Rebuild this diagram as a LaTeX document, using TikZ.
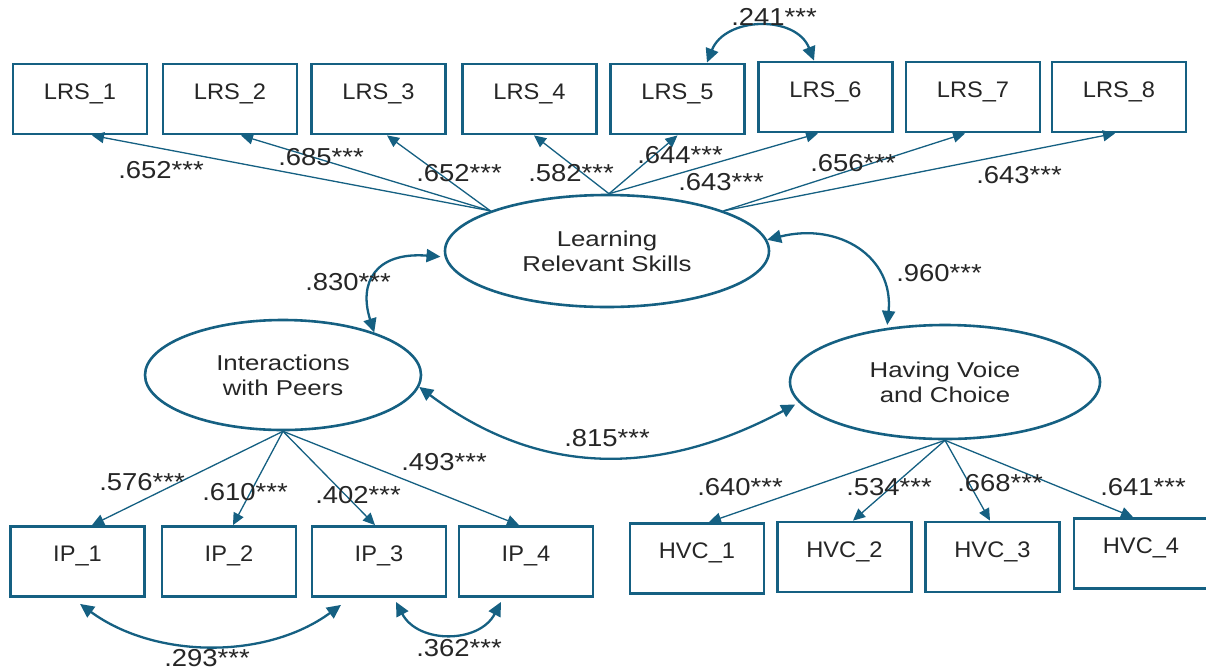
\documentclass[tikz,border=0pt]{standalone}
\usepackage{fontspec}
\setmainfont{Liberation Sans}
\newfontfamily\boxfont{Liberation Sans}[FakeStretch=1.05]
\newfontfamily\latfont{Liberation Sans}[FakeStretch=1.2]
\newfontfamily\numfont{Liberation Sans}[FakeStretch=1.12]
\usetikzlibrary{shapes.geometric,arrows.meta}
\definecolor{sem}{HTML}{156082}
\definecolor{ink}{HTML}{262626}

\tikzset{
  obs/.style={draw=sem, line width=2.8pt, rectangle, minimum width=134pt,
    minimum height=70pt, inner sep=0pt, text height=16pt, text depth=16pt,
    text=ink, font=\boxfont\fontsize{22.5}{26}\selectfont},
  lat/.style={draw=sem, line width=2.6pt, ellipse, inner sep=0pt, align=center,
    text=ink, font=\latfont\fontsize{21.5}{25}\selectfont},
  load/.style={draw=sem, line width=1.3pt, -{Triangle[length=12pt,width=11pt]}},
  cov/.style={draw=sem, line width=2.3pt,
    {Triangle[length=14pt,width=13pt]}-{Triangle[length=14pt,width=13pt]}},
  est/.style={text=ink, inner sep=0pt, font=\numfont\fontsize{24.5}{27}\selectfont},
}

\begin{document}
\begin{tikzpicture}[x=1pt,y=-1pt]
\fill[white] (0,0) rectangle (1206,670);
\useasboundingbox (0,0) rectangle (1206,670);

% latent factors
\node[lat, minimum width=324pt, minimum height=112pt] (LRS) at (607,251) {Learning\\Relevant Skills};
\node[lat, minimum width=276pt, minimum height=110pt] (IP)  at (283,375) {Interactions\\with Peers};
\node[lat, minimum width=310pt, minimum height=114pt] (HVC) at (945,382) {Having Voice\\and Choice};

% indicators of Learning Relevant Skills
\node[obs] (L1) at (80,99)    {LRS\_1};
\node[obs] (L2) at (230,99)   {LRS\_2};
\node[obs] (L3) at (378.5,99) {LRS\_3};
\node[obs] (L4) at (529.5,99) {LRS\_4};
\node[obs] (L5) at (677.5,99) {LRS\_5};
\node[obs] (L6) at (825.5,97) {LRS\_6};
\node[obs] (L7) at (973,97)   {LRS\_7};
\node[obs] (L8) at (1119,97)  {LRS\_8};

% indicators of Interactions with Peers
\node[obs] (P1) at (77.5,561.5) {IP\_1};
\node[obs] (P2) at (229,561.5)  {IP\_2};
\node[obs] (P3) at (379,561.5)  {IP\_3};
\node[obs] (P4) at (526,561.5)  {IP\_4};

% indicators of Having Voice and Choice
\node[obs] (H1) at (697,558.5)  {HVC\_1};
\node[obs] (H2) at (844.5,557)  {HVC\_2};
\node[obs] (H3) at (992.5,557)  {HVC\_3};
\node[obs] (H4) at (1141,553.5) {HVC\_4};

% factor loadings
\draw[load] (LRS.161) -- ([xshift=12pt]L1.south);
\draw[load] (LRS.161) -- ([xshift=11pt]L2.south);
\draw[load] (LRS.161) -- ([xshift=8.5pt]L3.south);
\draw[load] (LRS.88)  -- ([xshift=4.5pt]L4.south);
\draw[load] (LRS.88)  -- (L5.south);
\draw[load] (LRS.88)  -- ([xshift=-7.5pt]L6.south);
\draw[load] (LRS.19)  -- ([xshift=-8pt]L7.south);
\draw[load] (LRS.19)  -- ([xshift=-4pt]L8.south);

\draw[load] (IP.south) -- ([xshift=14.5pt]P1.north);
\draw[load] (IP.south) -- ([xshift=4pt]P2.north);
\draw[load] (IP.south) -- ([xshift=-4pt]P3.north);
\draw[load] (IP.south) -- ([xshift=-7pt]P4.north);

\draw[load] (HVC.south) -- ([xshift=12pt]H1.north);
\draw[load] (HVC.south) -- ([xshift=8.5pt]H2.north);
\draw[load] (HVC.south) -- ([xshift=-2.5pt]H3.north);
\draw[load] (HVC.south) -- ([xshift=-8pt]H4.north);

% covariances
\draw[cov] ([xshift=29.5pt]L5.north) .. controls +(18,-46) and +(-18,-46) .. ([xshift=-11.5pt]L6.north);
\draw[cov] (IP.25) .. controls +(-16,-50) and +(-65,-5) .. ([xshift=-4pt]LRS.182);
\draw[cov, shorten >=3pt] (LRS.4) .. controls +(72,-18) and +(7,-71) .. (HVC.137);
\draw[cov, shorten >=4pt] (IP.-5) .. controls +(120,90) and +(-140,75) .. (HVC.188);
\draw[cov] ([xshift=2.5pt,yshift=-6pt]P1.south) .. controls +(75,55) and +(-75,55) .. ([xshift=-38pt,yshift=-7pt]P3.south);
\draw[cov] ([xshift=17pt,yshift=-4pt]P3.south) .. controls +(22,42) and +(-22,42) .. ([xshift=-25pt,yshift=-4pt]P4.south);

% estimates
\node[est] (e241)  at (774,17)   {.241***};
\node[est] (e652a) at (161,170)  {.652***};
\node[est] (e685)  at (321,157)  {.685***};
\node[est] (e652b) at (459,173)  {.652***};
\node[est] (e582)  at (571,173)  {.582***};
\node[est] (e644)  at (680,155)  {.644***};
\node[est] (e643a) at (721,182)  {.643***};
\node[est] (e656)  at (853,163)  {.656***};
\node[est] (e643b) at (1019,175) {.643***};
\node[est] (e830)  at (348,282)  {.830***};
\node[est] (e960)  at (939,273)  {.960***};
\node[est] (e815)  at (607,438)  {.815***};
\node[est] (e576)  at (142,482)  {.576***};
\node[est] (e610)  at (245,492)  {.610***};
\node[est] (e402)  at (358,495)  {.402***};
\node[est] (e493)  at (444,462)  {.493***};
\node[est] (e293)  at (207,658)  {.293***};
\node[est] (e362)  at (459,648)  {.362***};
\node[est] (e640)  at (740,487)  {.640***};
\node[est] (e534)  at (889,487)  {.534***};
\node[est] (e668)  at (1000,483) {.668***};
\node[est] (e641)  at (1143,487) {.641***};
\end{tikzpicture}
\end{document}
